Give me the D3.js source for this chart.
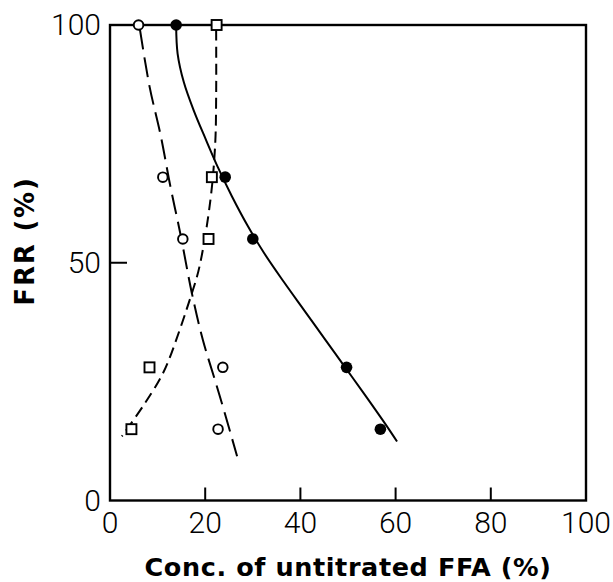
<!DOCTYPE html>
<html>
<head>
<meta charset="utf-8">
<script src="https://cdn.jsdelivr.net/npm/d3@7"></script>
<style>
  html, body { margin: 0; padding: 0; background: #fff; }
  svg { display: block; }
</style>
</head>
<body>
<svg id="chart" width="613" height="582"></svg>
<script>
// ---- Data ----
const xTicks = [0, 20, 40, 60, 80, 100];
const yTicks = [0, 50, 100];
const xInnerTicks = [20, 40, 60, 80];
const yInnerTicks = [50];
const xTitle = "Conc. of untitrated FFA (%)";
const yTitle = "FRR (%)";

// Filled circles (●)
const filledX = [13.9, 24.2, 30.0, 49.7, 56.8];
const filledY = [100, 68, 55, 28, 15];
// Open circles (○)
const openX = [6.0, 11.1, 15.3, 23.7, 22.7];
const openY = [100, 68, 55, 28, 15];
// Open squares (□)
const squareX = [22.4, 21.4, 20.7, 8.3, 4.5];
const squareY = [100, 68, 55, 28, 15];

// Fitted curves (hand-drawn in the reference), read as points
const solidCurveX = [13.9, 14.2, 15.5, 17.6, 20.1, 22.7, 25.6, 28.8, 32.4, 36.5, 40.8, 45.1, 49.4, 53.7, 57.9, 60.3];
const solidCurveY = [100, 94, 88, 82, 76, 70, 64, 58, 52, 46, 40, 34, 28, 22, 16, 12.4];
const longDashX = [6.3, 8.3, 10.6, 12.7, 14.8, 17.2, 19.5, 22.0, 24.1, 26.7];
const longDashY = [99, 87.1, 77, 66, 56, 43.6, 33.8, 25.5, 18.4, 9.3];
const shortDashX = [22.3, 22.3, 22.1, 21.1, 18.8, 17.2, 12.1, 10.4, 6.9, 2.5];
const shortDashY = [99, 85, 75, 63.2, 49.2, 43.6, 28.9, 25.4, 19.8, 13.5];

// ---- Layout ----
const svg = d3.select("#chart");
const mLeft = 110, mRight = 586, mTop = 25, mBottom = 500.5;
const x = d3.scaleLinear().domain([0, 100]).range([mLeft, mRight]);
const y = d3.scaleLinear().domain([0, 100]).range([mBottom, mTop]);

const zip = (xs, ys) => xs.map((v, i) => [v, ys[i]]);
const line = d3.line().x(d => x(d[0])).y(d => y(d[1])).curve(d3.curveCatmullRom.alpha(0.5));

// Frame
svg.append("rect")
  .attr("x", mLeft).attr("y", mTop)
  .attr("width", mRight - mLeft).attr("height", mBottom - mTop)
  .attr("fill", "none").attr("stroke", "#000").attr("stroke-width", 2.4);

// Inner ticks
svg.append("g").selectAll("line").data(xInnerTicks).join("line")
  .attr("x1", d => x(d)).attr("x2", d => x(d))
  .attr("y1", mBottom).attr("y2", mBottom - 13)
  .attr("stroke", "#000").attr("stroke-width", 2);
svg.append("g").selectAll("line").data(yInnerTicks).join("line")
  .attr("x1", mLeft).attr("x2", mLeft + 17)
  .attr("y1", d => y(d)).attr("y2", d => y(d))
  .attr("stroke", "#000").attr("stroke-width", 2);

// Tick labels
const tickFont = "Roboto, 'Liberation Sans', sans-serif";
svg.append("g").selectAll("text").data(xTicks).join("text")
  .attr("x", d => x(d)).attr("y", 533)
  .attr("text-anchor", "middle")
  .attr("font-family", tickFont).attr("font-weight", 300)
  .attr("font-size", 30).attr("fill", "#000")
  .text(d => d);
svg.append("g").selectAll("text").data(yTicks).join("text")
  .attr("x", 101).attr("y", d => y(d) + 10)
  .attr("text-anchor", "end")
  .attr("font-family", tickFont).attr("font-weight", 300)
  .attr("font-size", 30).attr("fill", "#000")
  .text(d => d);

// Axis titles
const titleFont = "'DejaVu Sans', sans-serif";
svg.append("text")
  .attr("x", (mLeft + mRight) / 2).attr("y", 576)
  .attr("text-anchor", "middle")
  .attr("font-family", titleFont).attr("font-weight", "bold")
  .attr("font-size", 25.5).attr("letter-spacing", 0.6).attr("fill", "#000")
  .text(xTitle);
svg.append("text")
  .attr("transform", "translate(34,241) rotate(-90)")
  .attr("text-anchor", "middle")
  .attr("font-family", titleFont).attr("font-weight", "bold")
  .attr("font-size", 26).attr("letter-spacing", 1.8).attr("fill", "#000")
  .text(yTitle);

// Curves
svg.append("path").datum(zip(solidCurveX, solidCurveY))
  .attr("d", line).attr("fill", "none")
  .attr("stroke", "#000").attr("stroke-width", 2);
svg.append("path").datum(zip(longDashX, longDashY))
  .attr("d", line).attr("fill", "none")
  .attr("stroke", "#000").attr("stroke-width", 2)
  .attr("stroke-dasharray", "20,8");
svg.append("path").datum(zip(shortDashX, shortDashY))
  .attr("d", line).attr("fill", "none")
  .attr("stroke", "#000").attr("stroke-width", 2)
  .attr("stroke-dasharray", "11,6");

// Markers
svg.append("g").selectAll("circle").data(zip(openX, openY)).join("circle")
  .attr("cx", d => x(d[0])).attr("cy", d => y(d[1])).attr("r", 4.8)
  .attr("fill", "#fff").attr("stroke", "#000").attr("stroke-width", 1.9);
svg.append("g").selectAll("rect").data(zip(squareX, squareY)).join("rect")
  .attr("x", d => x(d[0]) - 5).attr("y", d => y(d[1]) - 5)
  .attr("width", 10).attr("height", 10)
  .attr("fill", "#fff").attr("stroke", "#000").attr("stroke-width", 1.9);
svg.append("g").selectAll("circle").data(zip(filledX, filledY)).join("circle")
  .attr("cx", d => x(d[0])).attr("cy", d => y(d[1])).attr("r", 5.8)
  .attr("fill", "#000");
</script>
</body>
</html>
